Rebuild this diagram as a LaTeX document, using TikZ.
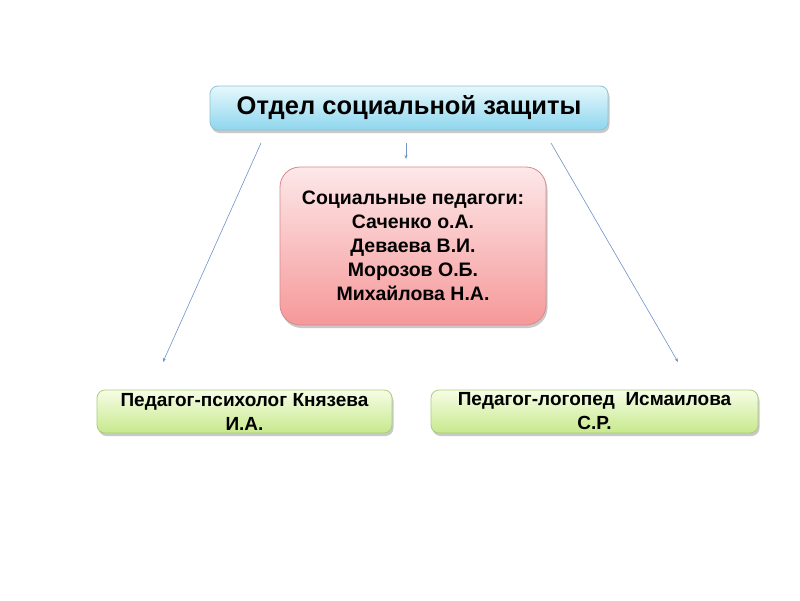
\documentclass[tikz,border=0pt]{standalone}
\usepackage{fontspec}
\setmainfont{Liberation Sans}
\usetikzlibrary{shadows,arrows.meta}
\definecolor{bluetop}{HTML}{E6F8FC}
\definecolor{bluebot}{HTML}{8ED6EE}
\definecolor{blueline}{HTML}{8FC3D6}
\definecolor{pinktop}{HTML}{FDE8E8}
\definecolor{pinkbot}{HTML}{F6989A}
\definecolor{pinkline}{HTML}{D9898B}
\definecolor{greentop}{HTML}{F7FDE6}
\definecolor{greenbot}{HTML}{C6E98C}
\definecolor{greenline}{HTML}{A8CF78}
\definecolor{arrowcol}{HTML}{6F93C8}
\tikzset{
  boxbase/.style={rounded corners=8pt, line width=0.8pt, align=center, font=\bfseries, inner sep=0pt,
    drop shadow={shadow xshift=1.5pt, shadow yshift=-3pt, opacity=0.35, fill=black!60}},
  topbox/.style={boxbase, draw=blueline, top color=bluetop, bottom color=bluebot, minimum width=398pt, minimum height=44pt, font=\bfseries\fontsize{25.5}{28}\selectfont},
  pinkbox/.style={boxbase, rounded corners=20pt, draw=pinkline, top color=pinktop, bottom color=pinkbot, minimum width=266pt, minimum height=158pt, font=\bfseries\fontsize{19.5}{24}\selectfont},
  greenbox/.style={boxbase, draw=greenline, top color=greentop, bottom color=greenbot, minimum height=43pt, font=\bfseries\fontsize{19}{24}\selectfont},
  conn/.style={draw=arrowcol, line width=0.6pt, -{Stealth[length=4pt,width=3pt]}}
}
\begin{document}
\begin{tikzpicture}[x=1pt,y=-1pt]
\useasboundingbox (0,0) rectangle (800,600);
\fill[white] (0,0) rectangle (800,600);
\node[topbox] (top) at (409,108) {Отдел социальной защиты};
\node[pinkbox] (ped) at (413,246) {Социальные педагоги:\\Саченко о.А.\\Деваева В.И.\\Морозов О.Б.\\Михайлова Н.А.};
\node[greenbox, minimum width=295pt] (psy) at (244.5,411.5) {Педагог-психолог Князева\\И.А.};
\node[greenbox, minimum width=327pt] (log) at (594.5,411.5) {Педагог-логопед\ \ Исмаилова\\С.Р.};
\coordinate (l1) at (261,143);
\coordinate (l2) at (163,362);
\coordinate (m1) at (406,143);
\coordinate (m2) at (406,159);
\coordinate (r1) at (551,143);
\coordinate (r2) at (678,362);
\draw[conn] (l1) -- (l2);
\draw[conn] (m1) -- (m2);
\draw[conn] (r1) -- (r2);
\end{tikzpicture}
\end{document}
